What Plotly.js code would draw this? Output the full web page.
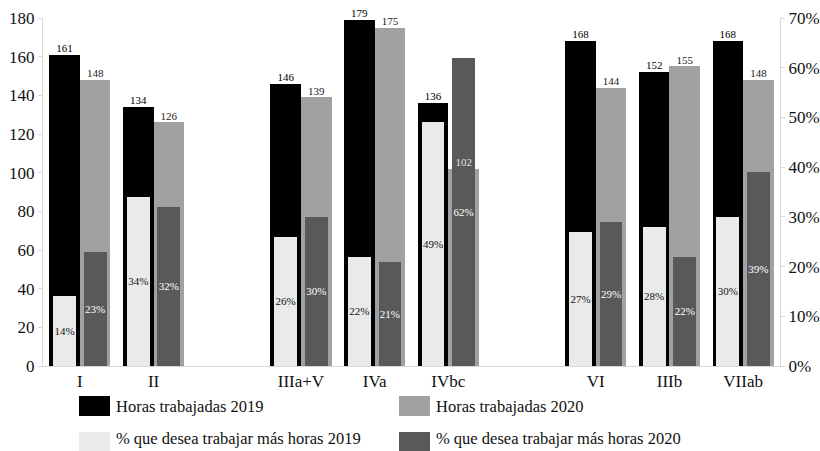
<!DOCTYPE html>
<html>
<head>
<meta charset="utf-8">
<script src="https://cdn.plot.ly/plotly-3.0.1.min.js"></script>
<style>html,body{margin:0;padding:0;background:#fff;}#chart{width:820px;height:451px;}</style>
</head>
<body>
<div id="chart"></div>
<script>
// ---- Data ----
const categories = ["I", "II", "IIIa+V", "IVa", "IVbc", "VI", "IIIb", "VIIab"];
const slots = [0, 1, 3, 4, 5, 7, 8, 9]; // position slots (gaps between groups)
const horas2019 = [161, 134, 146, 179, 136, 168, 152, 168];
const horas2020 = [148, 126, 139, 175, 102, 144, 155, 148];
const pct2019 = [14, 34, 26, 22, 49, 27, 28, 30];
const pct2020 = [23, 32, 30, 21, 62, 29, 22, 39];
const seriesNames = [
  "Horas trabajadas 2019",
  "Horas trabajadas 2020",
  "% que desea trabajar más horas 2019",
  "% que desea trabajar más horas 2020"
];
const colors = ["#000000", "#a0a1a2", "#e9ebea", "#59595a"];

// ---- Layout constants ----
const FONT = "'Liberation Serif', 'DejaVu Serif', serif";
const W = 820, H = 451, ML = 43, MR = 40, MT = 18, MB = 85;
const PW = W - ML - MR, PH = H - MT - MB;
const px2x = p => (p - ML) / PW;
const px2y = p => (H - MB - p) / PH;
const LEFT_MAX = 180, RIGHT_MAX = 70;

const wideW = 0.415, narrowW = 0.31;
const narrowPad = (wideW - narrowW) / 2;

const traces = [
  {
    type: "bar", name: seriesNames[0], x: slots, y: horas2019,
    width: wideW, offset: -wideW, marker: {color: colors[0]},
    yaxis: "y", showlegend: false, hoverinfo: "y"
  },
  {
    type: "bar", name: seriesNames[1], x: slots, y: horas2020,
    width: wideW, offset: 0, marker: {color: colors[1]},
    yaxis: "y", showlegend: false, hoverinfo: "y"
  },
  {
    type: "bar", name: seriesNames[2], x: slots, y: pct2019,
    width: narrowW, offset: -wideW + narrowPad, marker: {color: colors[2]},
    text: pct2019.map(v => v + "%"), textposition: "inside", insidetextanchor: "middle",
    textangle: 0, constraintext: "none",
    textfont: {family: FONT, size: 11, color: "#111"},
    yaxis: "y2", showlegend: false, hoverinfo: "y"
  },
  {
    type: "bar", name: seriesNames[3], x: slots, y: pct2020,
    width: narrowW, offset: narrowPad, marker: {color: colors[3]},
    text: pct2020.map(v => v + "%"), textposition: "inside", insidetextanchor: "middle",
    textangle: 0, constraintext: "none",
    textfont: {family: FONT, size: 11, color: "#ffffff"},
    yaxis: "y2", showlegend: false, hoverinfo: "y"
  },
  // value labels for the hours bars, drawn on a top layer so they stay visible
  {
    type: "scatter", mode: "text", x: slots.map(s => s - wideW / 2), y: horas2019,
    text: horas2019.map(String), textposition: "top center",
    textfont: {family: FONT, size: 11, color: "#000"},
    yaxis: "y3", showlegend: false, hoverinfo: "skip", cliponaxis: false
  },
  {
    type: "scatter", mode: "text", x: slots.map(s => s + wideW / 2), y: horas2020,
    text: horas2020.map(String), textposition: "top center",
    textfont: {family: FONT, size: 11,
      color: horas2020.map((v, i) => (pct2020[i] / RIGHT_MAX * LEFT_MAX > v ? "#e0e0e0" : "#222"))},
    yaxis: "y3", showlegend: false, hoverinfo: "skip", cliponaxis: false
  }
];

// ---- Custom legend (large swatches like the reference) ----
const legendCells = [
  {sx0: 79, sx1: 110, sy0: 396, sy1: 416, tx: 114, ty: 406},
  {sx0: 399, sx1: 430, sy0: 396, sy1: 416, tx: 434, ty: 406},
  {sx0: 79, sx1: 110, sy0: 432, sy1: 451, tx: 114, ty: 439},
  {sx0: 399, sx1: 430, sy0: 432, sy1: 451, tx: 434, ty: 439}
];
const shapes = legendCells.map((c, i) => ({
  type: "rect", xref: "paper", yref: "paper",
  x0: px2x(c.sx0), x1: px2x(c.sx1), y0: px2y(c.sy1), y1: px2y(c.sy0),
  fillcolor: colors[i], line: {width: 0}
}));
const annotations = legendCells.map((c, i) => ({
  xref: "paper", yref: "paper", x: px2x(c.tx), y: px2y(c.ty),
  xanchor: "left", yanchor: "middle", showarrow: false,
  text: seriesNames[i], font: {family: FONT, size: 16.5, color: "#111"}
}));

const layout = {
  width: W, height: H,
  margin: {l: ML, r: MR, t: MT, b: MB, pad: 0},
  paper_bgcolor: "#fff", plot_bgcolor: "#fff",
  barmode: "overlay", bargap: 0,
  showlegend: false,
  font: {family: FONT, size: 16, color: "#111"},
  xaxis: {
    range: [-0.5, 9.5], tickmode: "array", tickvals: slots, ticktext: categories,
    showgrid: false, zeroline: false, showline: true, linecolor: "#d9d9d9", linewidth: 1,
    ticks: "", tickfont: {family: FONT, size: 17, color: "#111"}, fixedrange: true
  },
  yaxis: {
    range: [0, LEFT_MAX], dtick: 20, showgrid: false, zeroline: false,
    showline: true, linecolor: "#d9d9d9", linewidth: 1,
    ticks: "outside", ticklen: 4, tickcolor: "#d9d9d9",
    tickfont: {family: FONT, size: 17, color: "#111"}
  },
  yaxis2: {
    overlaying: "y", side: "right", range: [0, RIGHT_MAX], dtick: 10, ticksuffix: "%",
    showgrid: false, zeroline: false, showline: true, linecolor: "#d9d9d9", linewidth: 1,
    ticks: "outside", ticklen: 4, tickcolor: "#d9d9d9",
    tickfont: {family: FONT, size: 17, color: "#111"}
  },
  yaxis3: {
    overlaying: "y", range: [0, LEFT_MAX], visible: false
  },
  shapes: shapes,
  annotations: annotations
};

Plotly.newPlot("chart", traces, layout, {displayModeBar: false, staticPlot: true});
</script>
</body>
</html>
